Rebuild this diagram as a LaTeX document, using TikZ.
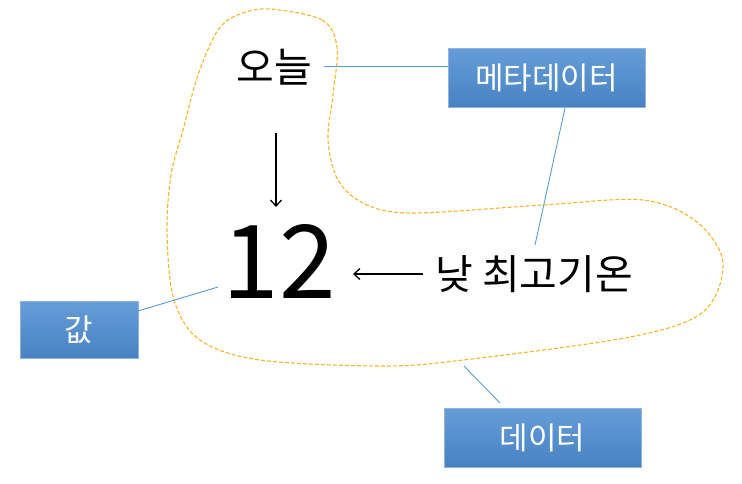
\documentclass[tikz,border=0pt]{standalone}
\usepackage{fontspec}
\newfontfamily\kr{Noto Sans CJK KR}
\usetikzlibrary{arrows.meta}
\definecolor{lnblue}{HTML}{5B9BD5}
\definecolor{boxtop}{HTML}{659DD8}
\definecolor{boxbot}{HTML}{4782C3}
\definecolor{boxedge}{HTML}{8DB3E2}
\definecolor{dashor}{HTML}{F7B52A}
\tikzset{
  bluebox/.style={draw=boxedge, line width=0.6pt, top color=boxtop, bottom color=boxbot,
    text=white, font=\kr\fontsize{31}{34}\selectfont, inner sep=0pt, anchor=center},
  bigtext/.style={font=\kr\fontsize{41}{45}\selectfont, inner sep=0pt, text=black},
  arr/.style={line width=1.3pt, -{Straight Barb[length=6pt,width=11pt,line width=1.3pt]}},
  callout/.style={draw=lnblue, line width=0.9pt},
  blob/.style={draw=dashor, line width=1.1pt, dash pattern=on 4pt off 2pt}
}
\begin{document}
\begin{tikzpicture}[x=1pt,y=-1pt]
\useasboundingbox (0,0) rectangle (742,483);
% dashed outline
\draw[blob] plot[smooth cycle, tension=0.55] coordinates {
 (270,9) (322,20) (337,47) (333,95) (328,140) (338,180) (365,204) (413,213)
 (543,205) (643,200) (697,222) (723,263) (703,312) (630,337) (463,360)
 (383,366) (260,360) (200,340) (174,300) (167,233) (171,175) (183,130)
 (198,75) (218,30) (240,14)};
% text nodes
\node[bigtext] (today) at (274,67) {오늘};
\node[font=\kr\fontsize{102}{110}\selectfont, inner sep=0pt] (twelve) at (279,261) {12};
\node[bigtext] (low) at (534,274) {낮 최고기온};
% boxes
\node[bluebox, minimum width=197pt, minimum height=59pt] (meta) at (546.5,77.5) {메타데이터};
\node[bluebox, minimum width=118pt, minimum height=57pt] (val) at (79,329.5) {값};
\node[bluebox, minimum width=197pt, minimum height=59pt] (data) at (542.5,437.5) {데이터};
% free ends
\coordinate (metaEnd) at (535,245);
\coordinate (metaStart) at (565,108);
\coordinate (valEnd) at (218,287);
\coordinate (valStart) at (138,311);
\coordinate (dataEnd) at (464,366);
\coordinate (dataStart) at (500,403);
\coordinate (todayEnd) at (324,66);
% arrows
\draw[arr] (276,133) -- (276,207);
\draw[arr] (423,274) -- (353,274);
% callout lines
\draw[callout] (todayEnd) -- (meta.west |- todayEnd);
\draw[callout] (metaStart) -- (metaEnd);
\draw[callout] (valStart) -- (valEnd);
\draw[callout] (dataStart) -- (dataEnd);
\end{tikzpicture}
\end{document}
